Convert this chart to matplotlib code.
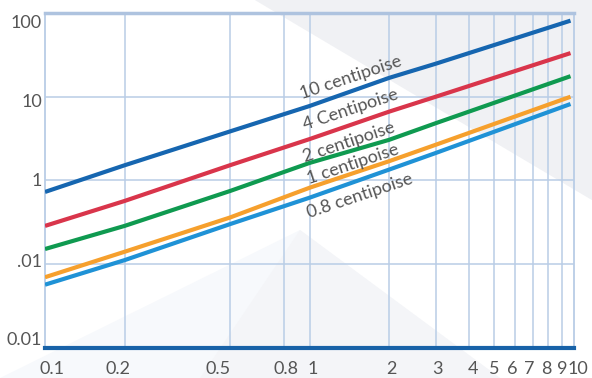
import matplotlib
matplotlib.use('Agg')
import matplotlib.pyplot as plt
from matplotlib.patches import Polygon
from matplotlib.transforms import offset_copy

# flow vs. pressure drop for several viscosities (log-log)
x_pts = [0.1, 0.2, 0.5, 1, 2, 3, 9.7]
cp_10 = [0.73, 1.52, 3.85, 7.75, 16.8, 24.8, 81]
cp_4 = [0.287, 0.57, 1.52, 3.12, 6.64, 10.0, 33.2]
cp_2 = [0.152, 0.287, 0.748, 1.62, 3.06, 4.83, 17.6]
cp_1 = [0.070, 0.141, 0.361, 0.819, 1.70, 2.67, 10.0]
cp_08 = [0.057, 0.112, 0.301, 0.623, 1.35, 2.13, 8.19]

series_names = ['10 centipoise', '4 Centipoise', '2 centipoise', '1 centipoise', '0.8 centipoise']
label_x = [0.94, 0.965, 0.965, 1.0, 1.0]
label_y = [9.4, 3.96, 1.67, 0.914, 0.36]

x_ticks = [0.1, 0.2, 0.5, 0.8, 1, 2, 3, 4, 5, 6, 7, 8, 9, 10]
x_tick_labels = ['0.1', '0.2', '0.5', '0.8', '1', '2', '3', '4', '5', '6', '7', '8', '9', '10']
y_ticks = [0.01, 0.1, 1, 10, 100]
y_tick_labels = ['0.01', '.01', '1', '10', '100']

colors = ['#1666b0', '#d9354b', '#0f9a50', '#f6a02d', '#1f92d6']
grid_c = '#b9cde6'
text_c = '#555555'

plt.rcParams['font.family'] = ['Lato', 'DejaVu Sans']

fig = plt.figure(figsize=(5.92, 3.78), dpi=100)
fig.patch.set_facecolor('white')

# decorative background shapes (figure pixel coords, origin top-left)
W, H = 592, 378
def fig_poly(pts, color):
    p = Polygon([(x / W, 1 - y / H) for x, y in pts], closed=True,
                transform=fig.transFigure, facecolor=color, edgecolor='none', zorder=-5)
    fig.patches.append(p)

fig_poly([(0, 0), (592, 0), (592, 378), (0, 378)], '#f7f9fc')
fig_poly([(0, 0), (255, 0), (592, 200), (592, 378), (500, 378), (300, 230), (0, 378)], '#ffffff')
fig_poly([(255, 0), (592, 0), (592, 200)], '#f0f1f4')
fig_poly([(300, 230), (500, 378), (200, 378)], '#f4f5f8')

ax = fig.add_axes([45 / W, 1 - 348 / H, (574 - 45) / W, (348 - 13) / H])
ax.set_zorder(2)
ax.set_facecolor('none')
ax.set_xscale('log')
ax.set_yscale('log')
ax.set_xlim(0.1, 10)
ax.set_ylim(0.01, 100)

for xv in x_ticks[1:-1]:
    ax.axvline(xv, color=grid_c, lw=1.1, zorder=1)
for yv in y_ticks[1:-1]:
    ax.axhline(yv, color=grid_c, lw=1.1, zorder=1)

for vals, c in zip([cp_10, cp_4, cp_2, cp_1, cp_08], colors):
    ax.plot(x_pts, vals, color=c, lw=3, solid_capstyle='butt', zorder=3)

for name, lx, ly in zip(series_names, label_x, label_y):
    ax.text(lx, ly, name, rotation=18.5, rotation_mode='anchor', ha='left', va='baseline',
            fontsize=13, color=text_c, zorder=4)

for side in ['left', 'right']:
    ax.spines[side].set_color(grid_c)
    ax.spines[side].set_linewidth(1.3)
ax.spines['top'].set_color('#aec3df')
ax.spines['top'].set_linewidth(2.5)
ax.spines['bottom'].set_color('#1862a8')
ax.spines['bottom'].set_linewidth(3)

ax.set_xticks([])
ax.set_yticks([])
ax.minorticks_off()

# tick labels, nudged a few pixels like the printed chart
x_nudge = [7, -7, -12, 2, 3, 2, 2, 4, 0, -3, -4, -2, 0, 4]
for xv, lab, dx in zip(x_ticks, x_tick_labels, x_nudge):
    tr = offset_copy(ax.get_xaxis_transform(), fig=fig, x=dx, y=-21, units='dots')
    ax.text(xv, 0, lab, transform=tr, ha='center', va='center', fontsize=13,
            color=text_c, clip_on=False)

y_nudge = [8, 2, -1, -5, -10]
for yv, lab, dy in zip(y_ticks, y_tick_labels, y_nudge):
    tr = offset_copy(ax.get_yaxis_transform(), fig=fig, x=-3, y=dy, units='dots')
    ax.text(0, yv, lab, transform=tr, ha='right', va='center', fontsize=13,
            color=text_c, clip_on=False)

fig.savefig('out.png', dpi=100)
